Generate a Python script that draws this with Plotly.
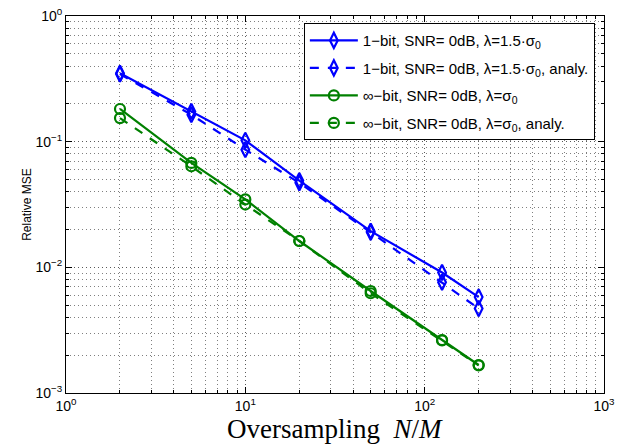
import plotly.graph_objects as go

# Data
x_vals = [2, 5, 10, 20, 50, 125, 200]
onebit_sim = [0.35, 0.174, 0.1025, 0.049, 0.0194, 0.0091, 0.0058]
onebit_ana = [0.345, 0.164, 0.0864, 0.047, 0.019, 0.0076, 0.0047]
infbit_sim = [0.182, 0.0678, 0.0347, 0.0162, 0.00648, 0.00264, 0.00167]
infbit_ana = [0.154, 0.0637, 0.0316, 0.0162, 0.00622, 0.00262, 0.00166]

names = [
    "1\u2212bit, SNR= 0dB, \u03bb=1.5\u00b7\u03c3<sub>0</sub>",
    "1\u2212bit, SNR= 0dB, \u03bb=1.5\u00b7\u03c3<sub>0</sub>, analy.",
    "\u221e\u2212bit, SNR= 0dB, \u03bb=\u03c3<sub>0</sub>",
    "\u221e\u2212bit, SNR= 0dB, \u03bb=\u03c3<sub>0</sub>, analy.",
]

x_tickvals = [1, 10, 100, 1000]
x_ticktext = ["10<sup>0</sup>", "10<sup>1</sup>", "10<sup>2</sup>", "10<sup>3</sup>"]
y_tickvals = [0.001, 0.01, 0.1, 1]
y_ticktext = ["10<sup>\u22123</sup>", "10<sup>\u22122</sup>", "10<sup>\u22121</sup>", "10<sup>0</sup>"]

BLUE = "rgb(0,0,255)"
GREEN = "rgb(0,128,0)"

series = [
    (onebit_sim, BLUE, "solid", "diamond-tall-open"),
    (onebit_ana, BLUE, "dash", "diamond-tall-open"),
    (infbit_sim, GREEN, "solid", "circle-open"),
    (infbit_ana, GREEN, "dash", "circle-open"),
]

fig = go.Figure()
for i, ((vals, col, dash, sym), nm) in enumerate(zip(series, names)):
    fig.add_trace(go.Scatter(
        x=x_vals, y=vals, mode="lines+markers", name=nm, legendgroup=f"g{i}",
        line=dict(color=col, width=2.2, dash=dash),
        marker=dict(symbol=sym, size=11 if "diamond" in sym else 10, color=col,
                    line=dict(width=2.2, color=col)),
    ))

minor_x = [m * 10 ** k for k in range(0, 3) for m in range(2, 10)]
minor_y = [m * 10.0 ** k for k in range(-3, 0) for m in range(2, 10)]

GRID_DASH = "1px,3px"
axis_common = dict(
    type="log", showline=True, linecolor="black", linewidth=1, mirror="allticks",
    ticks="inside", ticklen=6, tickcolor="black", automargin=False,
    showgrid=True, gridcolor="rgba(0,0,0,0.65)", griddash=GRID_DASH, gridwidth=1,
    zeroline=False,
    tickfont=dict(family="Liberation Sans, Arial", size=14, color="black"),
)
minor_common = dict(ticks="inside", ticklen=3, tickcolor="black",
                    showgrid=True, gridcolor="rgba(0,0,0,0.5)", griddash=GRID_DASH, gridwidth=1)

fig.update_xaxes(
    **axis_common, range=[0, 3], tickvals=x_tickvals, ticktext=x_ticktext,
    minor=dict(tickvals=minor_x, **minor_common),
)
fig.update_yaxes(
    **axis_common, range=[-3, 0], tickvals=y_tickvals, ticktext=y_ticktext,
    minor=dict(tickvals=minor_y, **minor_common),
    title=dict(text="Relative MSE",
               font=dict(family="Liberation Sans, Arial", size=12, color="black"),
               standoff=1),
)

fig.add_annotation(
    text="Oversampling  <i>N</i>/<i>M</i>", xref="paper", yref="paper",
    x=0.5, y=-0.05, xanchor="center", yanchor="top", showarrow=False,
    font=dict(family="Liberation Serif, Times New Roman", size=27, color="black"),
)

fig.update_layout(
    width=637, height=446,
    margin=dict(l=66, r=33, t=16, b=53),
    plot_bgcolor="white", paper_bgcolor="white",
    showlegend=True,
    legend=dict(
        x=0.983, y=0.981, xanchor="right", yanchor="top",
        bgcolor="white", bordercolor="black", borderwidth=1,
        font=dict(family="Liberation Sans, Arial", size=15, color="black"),
        itemwidth=48, tracegroupgap=5,
    ),
)

# remove the browser's default 8px body margin so the figure sits at the window origin
fig.write_html(
    "out.html",
    config={"displayModeBar": False},
    post_script="document.body.style.margin='0';document.documentElement.style.overflow='hidden';",
)
